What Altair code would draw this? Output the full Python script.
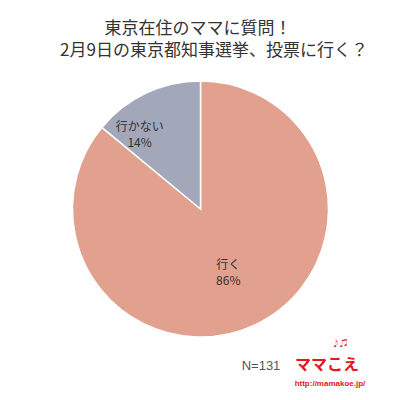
import altair as alt
import pandas as pd

categories = ["行く", "行かない"]
values = [86, 14]
colors = ["#E2A08E", "#A3A7BA"]
title_lines = ["東京在住のママに質問！", "2月9日の東京都知事選挙、投票に行く？"]
n_text = "N=131"
logo_text = "ママこえ"
logo_notes = "♪♫"
logo_url = "http://mamakoe.jp/"

df = pd.DataFrame({"cat": categories, "value": values, "order": list(range(len(categories)))})

CX, CY = 192.5, 201
FONT = "Noto Sans CJK JP"

base = alt.Chart(df)

arc = base.mark_arc(outerRadius=128, stroke="white", strokeWidth=1.5).encode(
    theta=alt.Theta("value:Q", stack=True),
    color=alt.Color("cat:N", scale=alt.Scale(domain=categories, range=colors), legend=None),
    order=alt.Order("order:Q"),
    x=alt.value(CX),
    y=alt.value(CY),
)

lab = base.transform_window(
    cum="sum(value)", sort=[{"field": "order"}], frame=[None, 0]
).transform_calculate(
    mid="datum.cum - datum.value / 2",
    label="datum.cat + '\\n' + datum.value + '%'",
)

def label_layer(cat, radius, dx, dy):
    return lab.transform_filter(alt.datum.cat == cat).mark_text(
        radius=radius, dx=dx, dy=dy, fontSize=12, lineHeight=16, lineBreak="\n",
        font=FONT, color="#333333", align="center", baseline="middle",
    ).encode(
        theta=alt.Theta("mid:Q", stack=False, scale=alt.Scale(domain=[0, 100])),
        text="label:N",
        x=alt.value(CX),
        y=alt.value(CY),
    )

lab1 = label_layer(categories[0], 70, -2, -7)
lab2 = label_layer(categories[1], 96, -20, 5)

def note(text, x, y, size, color, weight="normal", font=FONT):
    return alt.Chart(pd.DataFrame({"t": [text]})).mark_text(
        fontSize=size, color=color, fontWeight=weight, font=font, align="center", baseline="middle"
    ).encode(text="t:N", x=alt.value(x), y=alt.value(y))

t1 = note(title_lines[0], 190, 21, 17, "#333333")
t2 = note(title_lines[1], 206, 43, 17, "#333333")
nn = note(n_text, 253, 358, 13, "#555555", font="Liberation Sans")
lg = note(logo_text, 319, 357, 16, "#E8141E", weight="bold")
ln = note(logo_notes, 332, 336, 8, "#E8141E")
lu = note(logo_url, 322, 376, 8, "#E8141E", weight="bold", font="Liberation Sans")

chart = alt.layer(arc, lab1, lab2, t1, t2, nn, lg, ln, lu).properties(
    width=384, height=384, padding=0, autosize=alt.AutoSizeParams(type="none")
).configure_view(stroke=None)

chart.save("out.html", embed_options={"renderer": "svg", "actions": False})
